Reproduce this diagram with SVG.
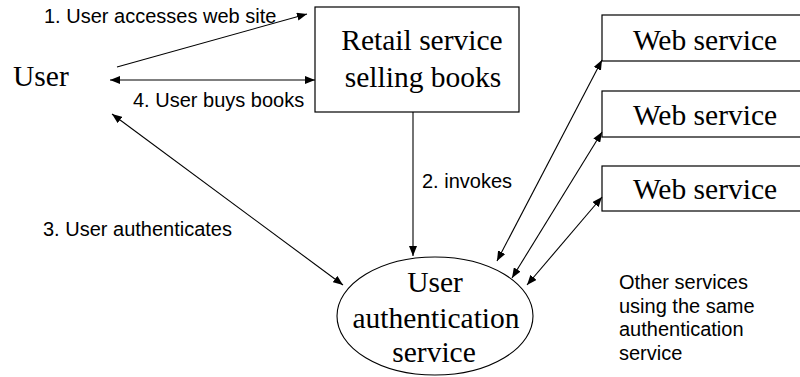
<svg xmlns="http://www.w3.org/2000/svg" width="800" height="377" viewBox="0 0 800 377">
  <style>
    .serif { font-family: "Liberation Serif", "Times New Roman", serif; font-size: 29.5px; fill: #000; }
    .sans { font-family: "Liberation Sans", Arial, sans-serif; font-size: 20px; fill: #000; }
    .box { fill: #fff; stroke: #000; stroke-width: 1.2; }
    .link { fill: none; stroke: #000; stroke-width: 1.1; }
  </style>
  <defs>
    <marker id="arrow" viewBox="0 0 10 8" refX="10" refY="4" markerWidth="10" markerHeight="8" markerUnits="userSpaceOnUse" orient="auto-start-reverse">
      <path d="M0,0 L10,4 L0,8 Z" fill="#000"/>
    </marker>
  </defs>
  <rect width="800" height="377" fill="#fff"/>

  <!-- actor -->
  <g id="user">
    <text class="serif" x="13" y="86">User</text>
  </g>

  <!-- retail site -->
  <g id="retail">
    <rect class="box" x="315" y="7" width="204" height="105" stroke="#444"/>
    <text class="serif" x="422" y="50" text-anchor="middle">Retail service</text>
    <text class="serif" x="423" y="87" text-anchor="middle">selling books</text>
  </g>

  <!-- other web services -->
  <g id="web1">
    <rect class="box" x="602" y="15" width="199" height="46"/>
    <text class="serif" x="705" y="50" text-anchor="middle">Web service</text>
  </g>
  <g id="web2">
    <rect class="box" x="602" y="91" width="199" height="46"/>
    <text class="serif" x="705" y="125" text-anchor="middle">Web service</text>
  </g>
  <g id="web3">
    <rect class="box" x="602" y="166" width="199" height="45"/>
    <text class="serif" x="705" y="199" text-anchor="middle">Web service</text>
  </g>

  <!-- authentication service -->
  <g id="auth">
    <ellipse cx="435" cy="316" rx="98" ry="59" fill="#fff" stroke="#000" stroke-width="1.1"/>
    <text class="serif" x="435" y="292" text-anchor="middle">User</text>
    <text class="serif" x="436" y="328" text-anchor="middle">authentication</text>
    <text class="serif" x="434" y="362" text-anchor="middle">service</text>
  </g>

  <!-- connectors -->
  <g id="connectors">
    <line class="link" x1="117" y1="67" x2="307" y2="14" marker-end="url(#arrow)"/>
    <line class="link" x1="110" y1="80" x2="315" y2="80" marker-start="url(#arrow)" marker-end="url(#arrow)"/>
    <line class="link" x1="413" y1="112" x2="413" y2="256" stroke="#444" marker-end="url(#arrow)"/>
    <line class="link" x1="112" y1="114" x2="343" y2="285" marker-start="url(#arrow)" marker-end="url(#arrow)"/>
    <line class="link" x1="602" y1="60" x2="497" y2="261" marker-start="url(#arrow)" marker-end="url(#arrow)"/>
    <line class="link" x1="602" y1="132" x2="512" y2="278" marker-start="url(#arrow)" marker-end="url(#arrow)"/>
    <line class="link" x1="602" y1="197" x2="527" y2="285" marker-start="url(#arrow)" marker-end="url(#arrow)"/>
  </g>

  <!-- labels -->
  <g id="labels">
    <text class="sans" x="44" y="23">1. User accesses web site</text>
    <text class="sans" x="133" y="107">4. User buys books</text>
    <text class="sans" x="422" y="188">2. invokes</text>
    <text class="sans" x="43" y="236">3. User authenticates</text>
    <text class="sans" x="619" y="289">Other services</text>
    <text class="sans" x="619" y="312.5">using the same</text>
    <text class="sans" x="619" y="336">authentication</text>
    <text class="sans" x="619" y="359.5">service</text>
  </g>
</svg>
